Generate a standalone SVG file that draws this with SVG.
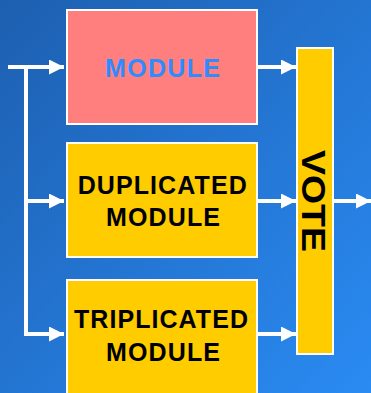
<svg xmlns="http://www.w3.org/2000/svg" width="371" height="393" viewBox="0 0 371 393">
<defs>
<linearGradient id="bg" x1="0" y1="0" x2="1" y2="1">
<stop offset="0" stop-color="#1D5FB0"/>
<stop offset="1" stop-color="#2A8BF3"/>
</linearGradient>
<marker id="ah" viewBox="0 0 15 15" refX="15" refY="7.5" markerWidth="15" markerHeight="15" markerUnits="userSpaceOnUse" orient="auto">
<path d="M0,0 L15,7.5 L0,15 Z" fill="#FFFFFF"/>
</marker>
<style>
.box{stroke:#FFFFFF;stroke-width:2}
.lbl{font-family:"Liberation Sans",Arial,sans-serif;font-weight:bold;font-size:25px;text-anchor:middle}
.wire{stroke:#FFFFFF;stroke-width:4;fill:none}
.arr{stroke:#FFFFFF;stroke-width:4;fill:none;marker-end:url(#ah)}
</style>
</defs>
<rect x="0" y="0" width="371" height="393" fill="url(#bg)"/>
<g id="connectors">
<path class="wire" d="M8,67 H26 M26,65 V336"/>
<path class="arr" d="M8,67 H64"/>
<path class="arr" d="M24,201 H64"/>
<path class="arr" d="M24,334 H64"/>
<path class="arr" d="M258,67 H296"/>
<path class="arr" d="M258,201 H296"/>
<path class="arr" d="M258,334 H296"/>
<path class="arr" d="M334,201 H371"/>
</g>
<g id="module">
<rect class="box" x="67" y="10" width="190" height="114" fill="#FF7F7F"/>
<text class="lbl" x="162.5" y="77" fill="#2E8CFF" textLength="115" lengthAdjust="spacing">MODULE</text>
</g>
<g id="duplicated">
<rect class="box" x="67" y="143" width="190" height="114" fill="#FFCC00"/>
<text class="lbl" x="162.2" y="194" fill="#000000" textLength="169" lengthAdjust="spacing">DUPLICATED</text>
<text class="lbl" x="163" y="226" fill="#000000" textLength="114" lengthAdjust="spacing">MODULE</text>
</g>
<g id="triplicated">
<rect class="box" x="67" y="280" width="190" height="114" fill="#FFCC00"/>
<text class="lbl" x="161" y="328" fill="#000000" textLength="174" lengthAdjust="spacing">TRIPLICATED</text>
<text class="lbl" x="163" y="360.5" fill="#000000" textLength="114" lengthAdjust="spacing">MODULE</text>
</g>
<g id="vote">
<rect class="box" x="297" y="48" width="36" height="306" fill="#FFCC00"/>
<text class="lbl" transform="translate(302,201) rotate(90)" style="font-size:34px" fill="#000000" textLength="102" lengthAdjust="spacingAndGlyphs">VOTE</text>
</g>
</svg>
